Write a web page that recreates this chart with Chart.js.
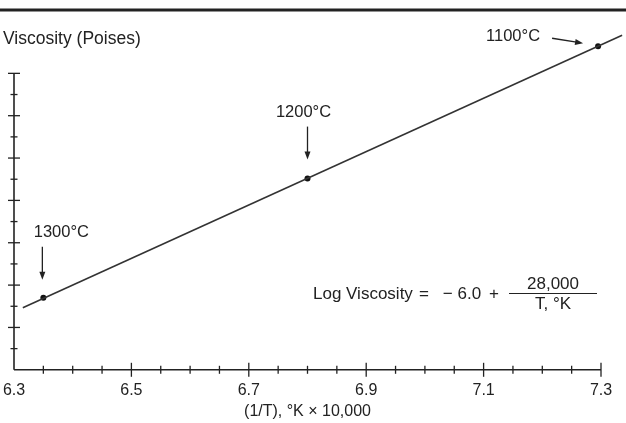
<!DOCTYPE html>
<html>
<head>
<meta charset="utf-8">
<script src="https://cdn.jsdelivr.net/npm/chart.js@4/dist/chart.umd.min.js"></script>
<style>
    html, body { margin: 0; padding: 0; background: #fff; }
    #contenitore { width: 626px; height: 423px; position: relative; }
</style>
</head>
<body>
<div id="contenitore"><canvas id="myChart"></canvas></div>
<script>
"use strict"

//dati: x = (1/T) * 10000, y in divisioni dell'asse verticale
let temperature = ["1300°C", "1200°C", "1100°C"];
let inversoT = [6.35, 6.80, 7.295];
let viscosita = [3.4, 9.03, 15.28];
let rettaX = [6.315, 7.336];
let rettaY = [2.93, 15.8];
let etichetteX = ["6.3", "6.5", "6.7", "6.9", "7.1", "7.3"];
let divisioniY = 14;

const FONT = "'Liberation Sans', Arial, sans-serif";
const NERO = "#222";

function freccia(ctx, x1, y1, x2, y2) {
    let ang = Math.atan2(y2 - y1, x2 - x1);
    ctx.beginPath();
    ctx.moveTo(x1, y1);
    ctx.lineTo(x2 - 5 * Math.cos(ang), y2 - 5 * Math.sin(ang));
    ctx.stroke();
    ctx.beginPath();
    ctx.moveTo(x2, y2);
    ctx.lineTo(x2 - 8 * Math.cos(ang) + 3 * Math.sin(ang), y2 - 8 * Math.sin(ang) - 3 * Math.cos(ang));
    ctx.lineTo(x2 - 8 * Math.cos(ang) - 3 * Math.sin(ang), y2 - 8 * Math.sin(ang) + 3 * Math.cos(ang));
    ctx.closePath();
    ctx.fill();
}

//assi con tacche a croce, titoli, etichette e formula
const decorazioni = {
    id: "decorazioni",
    afterDatasetsDraw(chart) {
        let ctx = chart.ctx;
        let x = chart.scales.x;
        let y = chart.scales.y;
        ctx.save();
        ctx.strokeStyle = NERO;
        ctx.fillStyle = NERO;

        //riga in alto
        ctx.lineWidth = 3;
        ctx.beginPath();
        ctx.moveTo(0, 10);
        ctx.lineTo(626, 10);
        ctx.stroke();

        //asse y
        let x0 = x.getPixelForValue(x.min);
        let y0 = y.getPixelForValue(0);
        ctx.lineWidth = 1.6;
        ctx.beginPath();
        ctx.moveTo(x0, y0);
        ctx.lineTo(x0, y.getPixelForValue(divisioniY));
        ctx.stroke();
        ctx.lineWidth = 1.3;
        for (let i = 1; i <= divisioniY; i++) {
            let py = y.getPixelForValue(i);
            let l = i % 2 == 0 ? 6 : 3.5;
            ctx.beginPath();
            ctx.moveTo(x0 - l, py);
            ctx.lineTo(x0 + l, py);
            ctx.stroke();
        }

        //asse x
        ctx.lineWidth = 1.6;
        ctx.beginPath();
        ctx.moveTo(x0, y0);
        ctx.lineTo(x.getPixelForValue(x.max), y0);
        ctx.stroke();
        ctx.lineWidth = 1.3;
        for (let v = 635; v <= 730; v += 5) {
            let px = x.getPixelForValue(v / 100);
            let l = etichetteX.includes((v / 100).toFixed(1)) && v % 10 == 0 ? 7 : 4;
            ctx.beginPath();
            ctx.moveTo(px, y0 - l);
            ctx.lineTo(px, y0 + l);
            ctx.stroke();
        }

        //titoli degli assi
        ctx.font = "17.5px " + FONT;
        ctx.textBaseline = "middle";
        ctx.textAlign = "left";
        ctx.fillText("Viscosity (Poises)", 3, 39);
        ctx.font = "16px " + FONT;
        ctx.textAlign = "center";
        ctx.fillText("(1/T), °K × 10,000", (x.left + x.right) / 2, y0 + 42);

        //temperature sui punti
        ctx.font = "16.5px " + FONT;
        ctx.lineWidth = 1.3;
        let punti = chart.getDatasetMeta(1).data;
        let p = punti[0];
        ctx.fillText(temperature[0], p.x + 18, p.y - 65);
        freccia(ctx, p.x - 1, p.y - 51, p.x - 1, p.y - 18);
        p = punti[1];
        ctx.fillText(temperature[1], p.x - 4, p.y - 66);
        freccia(ctx, p.x, p.y - 52, p.x, p.y - 19);
        p = punti[2];
        ctx.fillText(temperature[2], p.x - 85, p.y - 10);
        freccia(ctx, p.x - 46, p.y - 8, p.x - 15, p.y - 3);

        //formula
        ctx.font = "17px " + FONT;
        ctx.textAlign = "left";
        ctx.fillText("Log Viscosity", 313, 294);
        ctx.textAlign = "center";
        ctx.fillText("=", 424, 294);
        ctx.fillText("− 6.0", 462, 294);
        ctx.fillText("+", 494, 294);
        ctx.fillText("28,000", 553, 284);
        ctx.fillText("T, °K", 553, 304);
        ctx.lineWidth = 1.2;
        ctx.beginPath();
        ctx.moveTo(509, 293.5);
        ctx.lineTo(597, 293.5);
        ctx.stroke();
        ctx.restore();
    }
};

let ctx = document.getElementById("myChart");

new Chart(ctx, {
    type: "scatter",
    data: {
        datasets: [{
            label: "retta",
            data: rettaX.map((v, i) => ({ x: v, y: rettaY[i] })),
            showLine: true,
            borderColor: "#333",
            borderWidth: 1.6,
            pointRadius: 0,
            clip: false
        },
        {
            label: "punti",
            data: inversoT.map((v, i) => ({ x: v, y: viscosita[i] })),
            pointRadius: 3,
            backgroundColor: "#111",
            borderColor: "#111",
            borderWidth: 0,
            clip: false
        }]
    },
    options: {
        responsive: true,
        maintainAspectRatio: false,
        animation: false,
        layout: {
            padding: { left: 14, right: 25, top: 31, bottom: 12 }
        },
        plugins: {
            legend: { display: false },
            tooltip: { enabled: false }
        },
        scales: {
            x: {
                type: "linear",
                min: 6.3,
                max: 7.3,
                grid: { display: false, drawTicks: false, tickLength: 0 },
                border: { display: false },
                afterFit: function (scale) {
                    scale.paddingLeft = 0;
                    scale.paddingRight = 0;
                },
                ticks: {
                    stepSize: 0.05,
                    autoSkip: false,
                    maxRotation: 0,
                    padding: 11,
                    color: NERO,
                    font: { family: FONT, size: 16 },
                    callback: function (value) {
                        let t = (Math.round(value * 100) / 100).toFixed(2);
                        return t.endsWith("0") && etichetteX.includes(t.slice(0, -1)) ? t.slice(0, -1) : "";
                    }
                }
            },
            y: {
                display: false,
                min: 0,
                max: 16
            }
        }
    },
    plugins: [decorazioni]
});
</script>
</body>
</html>
